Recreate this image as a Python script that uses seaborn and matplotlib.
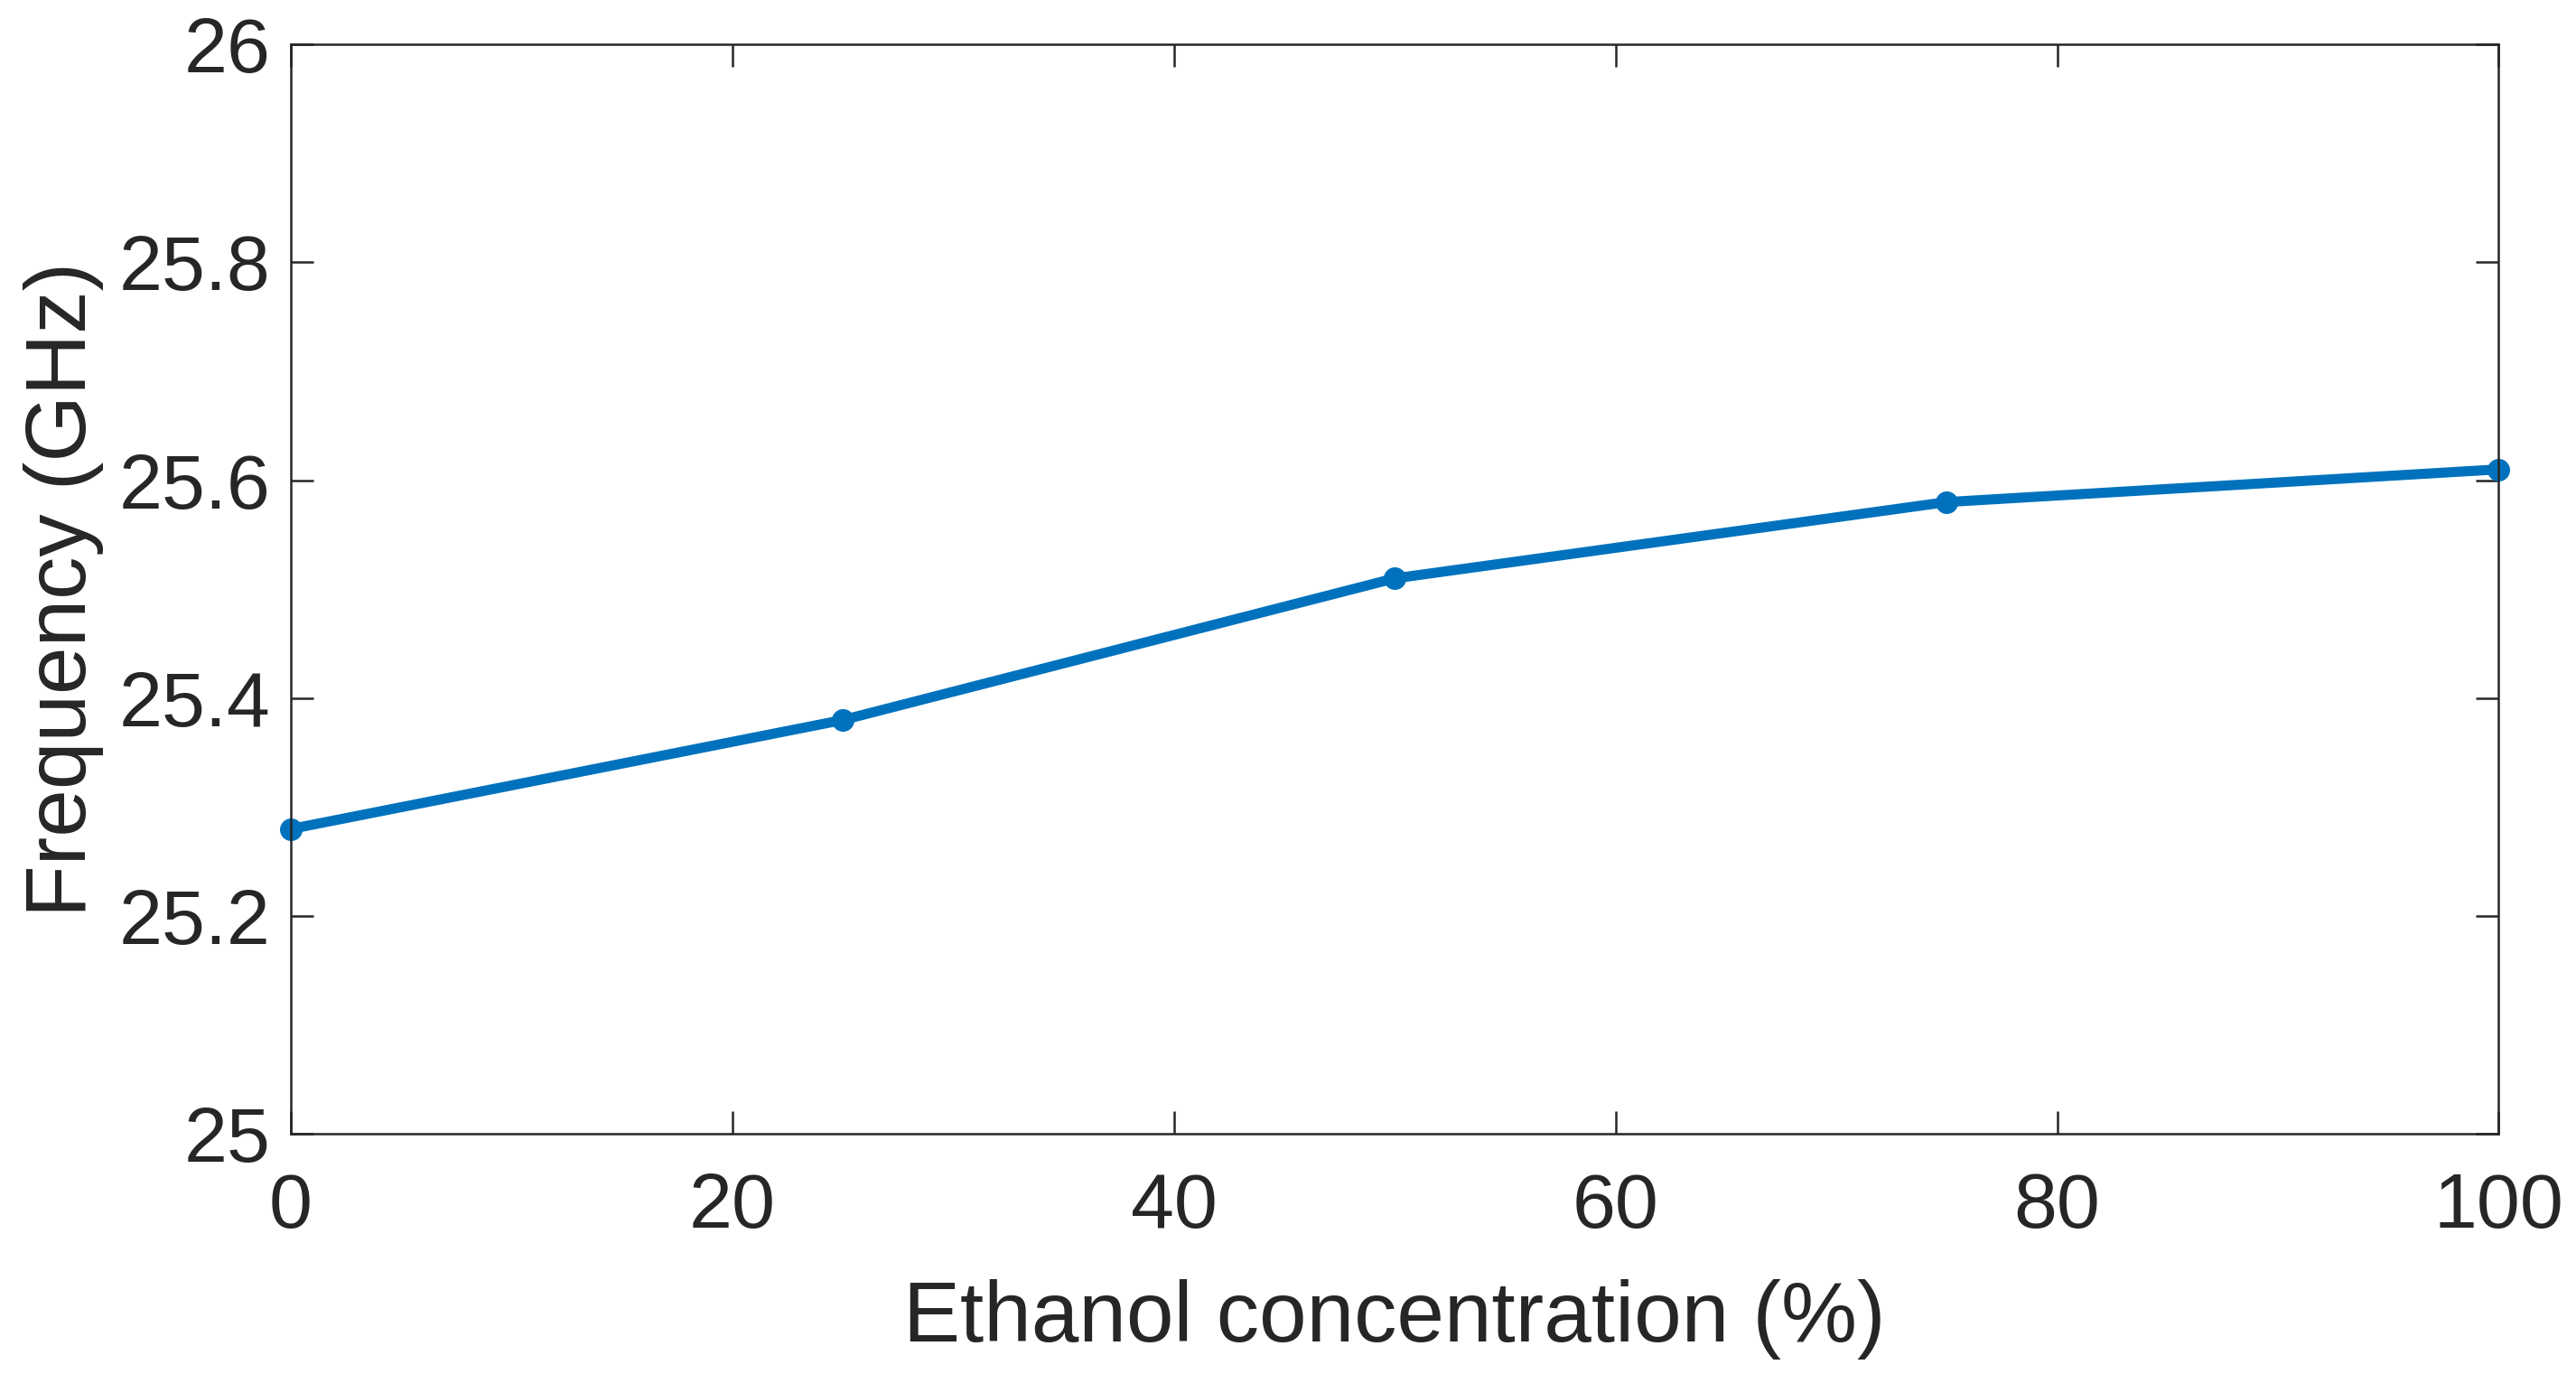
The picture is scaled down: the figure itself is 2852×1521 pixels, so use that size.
import numpy as np
import pandas as pd
import matplotlib
matplotlib.use("Agg")
import matplotlib.pyplot as plt
import seaborn as sns

# Data
concentration = [0, 25, 50, 75, 100]
frequency = [25.28, 25.38, 25.51, 25.58, 25.61]
x_ticks = [0, 20, 40, 60, 80, 100]
y_ticks = [25, 25.2, 25.4, 25.6, 25.8, 26]
y_tick_labels = ["25", "25.2", "25.4", "25.6", "25.8", "26"]

df = pd.DataFrame({"conc": concentration, "freq": frequency})

sns.set_style("white")
plt.rcParams['font.family'] = ['Liberation Sans', 'DejaVu Sans']

fig = plt.figure(figsize=(14.26, 7.605), dpi=200)
ax = fig.add_axes([0.1129, 0.1746, 0.8571, 0.7931])

sns.lineplot(data=df, x="conc", y="freq", ax=ax, color="#0072BD",
             linewidth=4, marker="o", markersize=9, markeredgewidth=0,
             clip_on=False)

ax.set_xlim(0, 100)
ax.set_ylim(25, 26)
ax.set_xticks(x_ticks)
ax.set_yticks(y_ticks)
ax.set_yticklabels(y_tick_labels)

ax.set_xlabel("Ethanol concentration (%)", fontsize=34, color="#262626", labelpad=14)
ax.set_ylabel("Frequency (GHz)", fontsize=34, color="#262626", labelpad=6)

for s in ax.spines.values():
    s.set_color("#262626")
    s.set_linewidth(0.9)
    s.set_visible(True)

ax.tick_params(direction="in", length=9, width=0.9, color="#262626",
               labelsize=31, labelcolor="#262626", top=True, right=True,
               bottom=True, left=True, pad=8)
ax.tick_params(axis="x", pad=15)

fig.savefig("out.png", dpi=200, facecolor="white")
